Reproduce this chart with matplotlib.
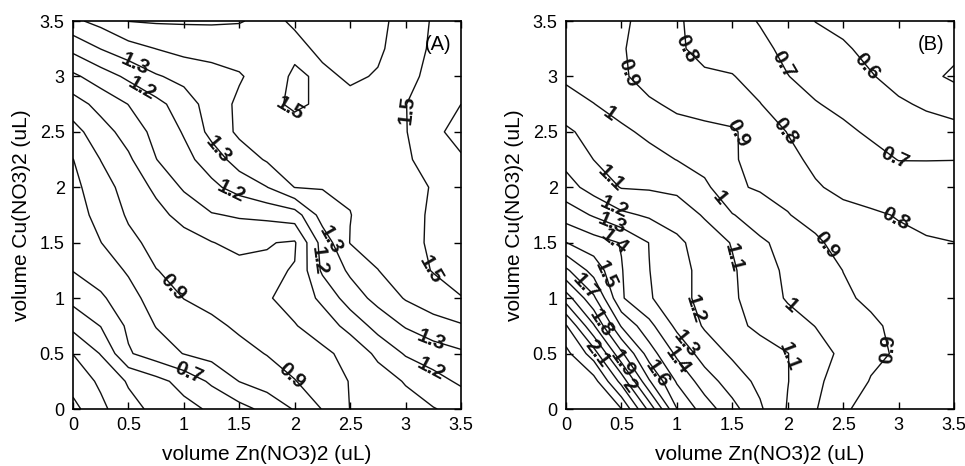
import numpy as np
import matplotlib
matplotlib.use('Agg')
from matplotlib import pyplot as plt

plt.rcParams['font.family'] = ['Liberation Sans', 'DejaVu Sans']

# volumes on the grid (uL), same for both reagents
vol_zn = [0, 0.25, 0.5, 0.75, 1, 1.25, 1.5, 1.75, 2, 2.25, 2.5, 2.75, 3, 3.25, 3.5]
vol_cu = [0, 0.25, 0.5, 0.75, 1, 1.25, 1.5, 1.75, 2, 2.25, 2.5, 2.75, 3, 3.25, 3.5]

# response (A), one row per Cu(NO3)2 volume from 0 to 3.5
resp_a = [
    [0.27, 0.377, 0.466, 0.526, 0.569, 0.615, 0.667, 0.728, 0.808, 0.904, 1.002, 1.032, 1.063, 1.095, 1.13],
    [0.34, 0.417, 0.511, 0.568, 0.635, 0.717, 0.802, 0.848, 0.896, 0.95, 1.004, 1.055, 1.107, 1.165, 1.216],
    [0.402, 0.505, 0.69, 0.75, 0.803, 0.835, 0.869, 0.904, 0.945, 0.977, 1.033, 1.12, 1.21, 1.25, 1.284],
    [0.527, 0.603, 0.718, 0.804, 0.841, 0.878, 0.916, 0.955, 0.994, 1.051, 1.13, 1.238, 1.308, 1.36, 1.39],
    [0.63, 0.683, 0.767, 0.84, 0.902, 0.931, 0.96, 0.99, 1.04, 1.12, 1.25, 1.33, 1.408, 1.455, 1.497],
    [0.703, 0.753, 0.81, 0.898, 0.921, 0.942, 0.963, 0.985, 1.005, 1.217, 1.317, 1.398, 1.457, 1.505, 1.53],
    [0.727, 0.798, 0.878, 0.925, 0.96, 0.996, 1.03, 1.005, 0.99, 1.24, 1.403, 1.44, 1.48, 1.51, 1.55],
    [0.75, 0.836, 0.911, 0.97, 1.032, 1.093, 1.11, 1.125, 1.15, 1.343, 1.398, 1.44, 1.477, 1.51, 1.56],
    [0.774, 0.856, 0.94, 1.02, 1.113, 1.177, 1.238, 1.298, 1.402, 1.405, 1.41, 1.44, 1.475, 1.505, 1.57],
    [0.798, 0.902, 0.983, 1.098, 1.17, 1.246, 1.345, 1.41, 1.43, 1.44, 1.45, 1.47, 1.49, 1.53, 1.59],
    [0.864, 0.958, 1.04, 1.13, 1.208, 1.33, 1.42, 1.43, 1.45, 1.46, 1.47, 1.485, 1.495, 1.58, 1.63],
    [0.955, 1.034, 1.102, 1.17, 1.25, 1.345, 1.42, 1.47, 1.52, 1.48, 1.48, 1.49, 1.498, 1.55, 1.6],
    [1.08, 1.15, 1.22, 1.29, 1.33, 1.36, 1.39, 1.45, 1.515, 1.485, 1.51, 1.495, 1.48, 1.52, 1.54],
    [1.225, 1.302, 1.36, 1.401, 1.43, 1.44, 1.45, 1.46, 1.48, 1.515, 1.54, 1.51, 1.47, 1.51, 1.53],
    [1.38, 1.43, 1.502, 1.51, 1.51, 1.51, 1.505, 1.48, 1.51, 1.55, 1.56, 1.52, 1.47, 1.505, 1.52],
]

# response (B)
resp_b = [
    [2.38, 2.39, 2.302, 1.97, 1.602, 1.452, 1.333, 1.214, 1.093, 1.007, 0.908, 0.88, 0.86, 0.85, 0.84],
    [2.36, 2.34, 2.067, 1.71, 1.489, 1.35, 1.25, 1.176, 1.103, 1.02, 0.955, 0.895, 0.87, 0.86, 0.85],
    [2.33, 2.15, 1.82, 1.55, 1.38, 1.253, 1.185, 1.143, 1.102, 1.04, 0.98, 0.92, 0.89, 0.87, 0.86],
    [2.21, 1.91, 1.59, 1.43, 1.276, 1.19, 1.128, 1.078, 1.043, 0.998, 0.96, 0.915, 0.88, 0.865, 0.855],
    [1.95, 1.72, 1.41, 1.31, 1.235, 1.17, 1.114, 1.054, 0.99, 0.95, 0.913, 0.885, 0.87, 0.86, 0.855],
    [1.72, 1.559, 1.405, 1.302, 1.235, 1.17, 1.112, 1.041, 0.982, 0.941, 0.899, 0.88, 0.86, 0.85, 0.84],
    [1.502, 1.444, 1.395, 1.298, 1.22, 1.156, 1.094, 1.015, 0.969, 0.92, 0.857, 0.832, 0.815, 0.806, 0.801],
    [1.355, 1.29, 1.22, 1.187, 1.157, 1.09, 1.005, 0.953, 0.905, 0.86, 0.83, 0.81, 0.796, 0.783, 0.767],
    [1.24, 1.16, 1.095, 1.09, 1.076, 1.024, 0.915, 0.889, 0.866, 0.81, 0.776, 0.768, 0.747, 0.74, 0.733],
    [1.17, 1.099, 1.067, 1.033, 0.998, 0.955, 0.911, 0.862, 0.827, 0.778, 0.751, 0.727, 0.698, 0.698, 0.699],
    [1.116, 1.067, 1.019, 0.979, 0.938, 0.923, 0.912, 0.854, 0.797, 0.738, 0.717, 0.688, 0.654, 0.63, 0.62],
    [1.047, 1.002, 0.96, 0.915, 0.88, 0.865, 0.845, 0.803, 0.743, 0.705, 0.68, 0.64, 0.61, 0.59, 0.575],
    [0.98, 0.95, 0.915, 0.86, 0.83, 0.81, 0.805, 0.76, 0.702, 0.67, 0.64, 0.605, 0.575, 0.53, 0.48],
    [0.96, 0.94, 0.91, 0.85, 0.81, 0.78, 0.755, 0.72, 0.68, 0.645, 0.61, 0.58, 0.56, 0.54, 0.53],
    [0.95, 0.935, 0.915, 0.87, 0.81, 0.77, 0.73, 0.695, 0.65, 0.598, 0.58, 0.565, 0.55, 0.54, 0.53],
]

levels_a = [0.3, 0.4, 0.5, 0.6, 0.7, 0.8, 0.9, 1.0, 1.1, 1.2, 1.3, 1.4, 1.5, 1.6]
levels_b = [0.5, 0.6, 0.7, 0.8, 0.9, 1.0, 1.1, 1.2, 1.3, 1.4, 1.5, 1.6, 1.7, 1.8,
            1.9, 2.0, 2.1, 2.2, 2.3, 2.4]

# where the contour labels go (data coords)
label_pos_a = [(0.55, 3.1), (0.6, 2.85), (1.95, 2.7), (3.05, 2.7), (1.28, 2.31),
               (1.42, 1.95), (2.32, 1.52), (2.2, 1.34), (0.87, 1.07), (3.19, 1.25),
               (1.03, 0.3), (1.96, 0.29), (3.22, 0.6), (3.22, 0.35)]
label_pos_b = [(0.6, 3.04), (1.01, 3.17), (1.93, 3.09), (2.71, 3.09), (0.4, 2.67),
               (1.59, 2.49), (1.96, 2.49), (2.95, 2.25), (0.37, 2.04), (1.36, 1.88),
               (2.98, 1.73), (0.42, 1.79), (0.42, 1.68), (0.44, 1.52), (2.35, 1.48),
               (1.54, 1.37), (0.35, 1.21), (0.2, 1.12), (1.15, 0.89), (2.02, 0.92),
               (0.33, 0.78), (1.05, 0.56), (1.01, 0.44), (0.28, 0.5), (0.51, 0.41),
               (0.85, 0.33), (0.58, 0.22), (2.02, 0.47), (2.88, 0.53)]

tick_vals = [0, 0.5, 1, 1.5, 2, 2.5, 3, 3.5]
tick_text = ['0', '0.5', '1', '1.5', '2', '2.5', '3', '3.5']

fig = plt.figure(figsize=(9.65, 4.66), dpi=100)
ax_a = fig.add_axes([73 / 965, 57 / 466, 388 / 965, 388 / 466])
ax_b = fig.add_axes([566 / 965, 57 / 466, 388 / 965, 388 / 466])


def draw_panel(ax, z, levels, label_pos, tag):
    cs = ax.contour(vol_zn, vol_cu, np.array(z), levels=levels,
                    colors='#111111', linewidths=1.0)
    ax.clabel(cs, fmt='%g', inline=False, fontsize=15, manual=label_pos)
    for t in cs.labelTexts:
        t.set_fontsize(15)
        t.set_fontweight('bold')
    ax.set_xlim(0, 3.5)
    ax.set_ylim(0, 3.5)
    ax.set_xticks(tick_vals)
    ax.set_xticklabels(tick_text)
    ax.set_yticks(tick_vals)
    ax.set_yticklabels(tick_text)
    ax.tick_params(direction='in', length=5, width=1, top=True, right=True,
                   labelsize=13, pad=6)
    for sp in ax.spines.values():
        sp.set_linewidth(1.2)
    ax.set_xlabel('volume Zn(NO3)2 (uL)', fontsize=15, labelpad=8)
    ax.set_ylabel('volume Cu(NO3)2 (uL)', fontsize=15, labelpad=6)
    ax.text(0.975, 0.965, tag, transform=ax.transAxes, ha='right', va='top',
            fontsize=14.5)


draw_panel(ax_a, resp_a, levels_a, label_pos_a, '(A)')
draw_panel(ax_b, resp_b, levels_b, label_pos_b, '(B)')

fig.savefig('out.png', dpi=100)
